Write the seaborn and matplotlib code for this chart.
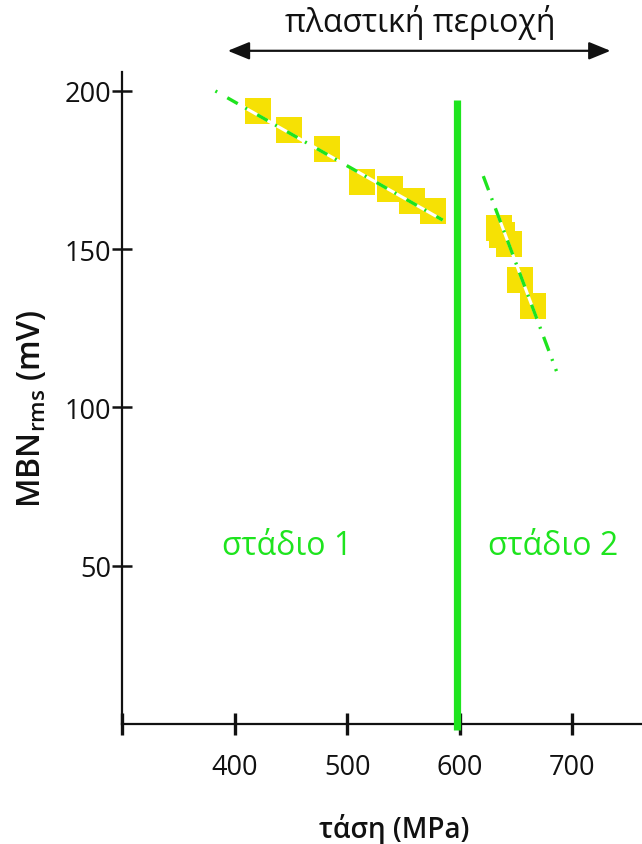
import matplotlib
matplotlib.use("Agg")
import matplotlib.pyplot as plt
import seaborn as sns
import pandas as pd

# Measured MBN rms amplitude versus applied stress
stage1_stress = [421, 448, 482, 513, 538, 558, 576]
stage1_mbn = [193.7, 187.7, 181.6, 171.2, 169.0, 165.2, 162.0]
stage2_stress = [635, 638, 644, 654, 665]
stage2_mbn = [156.6, 154.4, 151.6, 140.2, 132.0]

# Linear trend lines (end points) for each stage
fit1_stress = [383, 585]
fit1_mbn = [200.0, 159.2]
fit2_stress = [621, 686]
fit2_mbn = [173.1, 111.5]

boundary_stress = 598          # start of stage 2
x_ticks = [300, 400, 500, 600, 700]
x_ticklabels = ["", "400", "500", "600", "700"]
y_ticks = [50, 100, 150, 200]
y_ticklabels = ["50", "100", "150", "200"]

YELLOW = "#f6e104"
GREEN = "#1ee41e"
INK = "#111111"

sns.set_theme(style="white")
plt.rcParams["font.family"] = ["Open Sans", "DejaVu Sans"]

fig = plt.figure(figsize=(6.42, 8.45), dpi=100)
ax = fig.add_axes([122 / 642, 120 / 845, 520 / 642, 652 / 845])

df1 = pd.DataFrame({"stress": stage1_stress, "mbn": stage1_mbn})
df2 = pd.DataFrame({"stress": stage2_stress, "mbn": stage2_mbn})
sns.scatterplot(data=df1, x="stress", y="mbn", marker="s", s=350,
                color=YELLOW, edgecolor="none", ax=ax, zorder=2)
sns.scatterplot(data=df2, x="stress", y="mbn", marker="s", s=350,
                color=YELLOW, edgecolor="none", ax=ax, zorder=2)

# trend lines: white underlay, green dashes on top
ax.plot(fit1_stress, fit1_mbn, color="white", lw=2.2, zorder=3,
        solid_capstyle="butt")
ax.plot(fit1_stress, fit1_mbn, color=GREEN, lw=2.4, zorder=4,
        dashes=(0.6, 3.5, 3.6, 2.6))
ax.plot(fit2_stress, fit2_mbn, color="white", lw=2.2, zorder=3,
        solid_capstyle="butt")
ax.plot(fit2_stress, fit2_mbn, color=GREEN, lw=2.4, zorder=4,
        dashes=(4.5, 2.6, 0.6, 2.6))

# boundary between the two stages
ax.plot([boundary_stress, boundary_stress], [197, -1.8], color=GREEN,
        lw=5.2, solid_capstyle="butt", clip_on=False, zorder=5)

ax.set_xlim(300, 762)
ax.set_ylim(0, 206)
ax.set_xticks(x_ticks)
ax.set_xticklabels(x_ticklabels)
ax.set_yticks(y_ticks)
ax.set_yticklabels(y_ticklabels)

for s in ["top", "right"]:
    ax.spines[s].set_visible(False)
for s in ["left", "bottom"]:
    ax.spines[s].set_color(INK)
    ax.spines[s].set_linewidth(1.6)

ax.tick_params(axis="x", bottom=True, direction="inout", length=16,
               width=2.4, color=INK, labelcolor=INK, labelsize=19.5, pad=13)
ax.tick_params(axis="y", left=True, direction="inout", length=14,
               width=1.8, color=INK, labelcolor=INK, labelsize=19.5, pad=1)

ax.set_xlabel("τάση (MPa)", fontsize=20, fontweight="semibold",
              color=INK)
ax.set_ylabel(r"MBN$_{\mathregular{rms}}$ (mV)", fontsize=23,
              fontweight="semibold", color=INK)
ax.xaxis.set_label_coords(0.523, -0.137)
ax.yaxis.set_label_coords(-0.143, 0.485)

ax.text(447, 56.3, "στάδιο 1", color=GREEN, fontsize=23,
        ha="center", va="center")
ax.text(683, 56.3, "στάδιο 2", color=GREEN, fontsize=23,
        ha="center", va="center")

# plastic region marker above the plot
ax.annotate("", xy=(394, 212.7), xytext=(734, 212.7), xycoords="data",
            annotation_clip=False,
            arrowprops=dict(arrowstyle="<|-|>,head_length=1.1,head_width=0.45",
                            color=INK, lw=1.6, shrinkA=0, shrinkB=0))
ax.text(565, 222, "πλαστική περιοχή", fontsize=23, color=INK,
        ha="center", va="center", clip_on=False)

fig.savefig("out.png", dpi=100, facecolor="white")
